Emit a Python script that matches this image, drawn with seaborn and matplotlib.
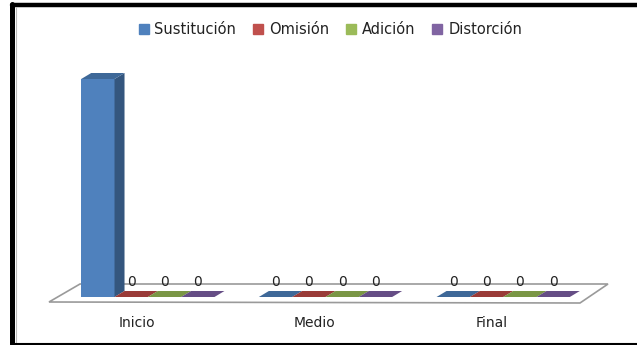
import matplotlib
matplotlib.use("Agg")
import matplotlib.pyplot as plt
import matplotlib.transforms as mtransforms
from matplotlib.patches import Polygon
from matplotlib.lines import Line2D
import pandas as pd
import seaborn as sns

# ── Datos ────────────────────────────────────────────────────────────────
ETAPAS = ["Inicio", "Medio", "Final"]
TIPOS = ["Sustitución", "Omisión", "Adición", "Distorción"]
SUSTITUCION = [10, 0, 0]
OMISION = [0, 0, 0]
ADICION = [0, 0, 0]
DISTORCION = [0, 0, 0]

# Colores: frente, tapa (más oscura), lateral
C_FRENTE = ["#4F81BD", "#C0504D", "#9BBB59", "#8064A2"]
C_TAPA = ["#3E6898", "#9A3B38", "#7A9645", "#654D85"]
C_LADO = ["#34567E", "#7F302E", "#647B37", "#523F6D"]

W, H, DPI = 637, 345, 100
DX, DY = 10, 6  # profundidad 3D en píxeles

df = pd.DataFrame({
    "etapa": ETAPAS * 4,
    "tipo": [t for t in TIPOS for _ in ETAPAS],
    "valor": SUSTITUCION + OMISION + ADICION + DISTORCION,
})

sns.set_theme(style="white")
plt.rcParams["font.family"] = ["DejaVu Sans"]

fig = plt.figure(figsize=(W / DPI, H / DPI), dpi=DPI)
fig.patch.set_facecolor("white")


def fx(px):
    return px / W


def fy(py):
    return 1 - py / H


ax = fig.add_axes([fx(59), fy(297), fx(592) - fx(59), fy(79) - fy(297)])
ax.set_facecolor("none")
ax.set_zorder(1)

# Suelo (plano 3D), detrás de las barras
suelo = Polygon([(fx(49), fy(302)), (fx(580), fy(303)), (fx(608), fy(284)), (fx(80), fy(284))],
                closed=True, transform=fig.transFigure, facecolor="white",
                edgecolor="#9A9A9A", linewidth=1.2, zorder=0.5)
fig.patches.append(suelo)

sns.barplot(data=df, x="etapa", y="valor", hue="tipo", hue_order=TIPOS,
            order=ETAPAS, palette=C_FRENTE, saturation=1, width=0.75,
            ax=ax, legend=False, linewidth=0, zorder=3)

ax.set_xlim(-0.5, 2.5)
ax.set_ylim(0, 10)
for s in ax.spines.values():
    s.set_visible(False)
ax.set_yticks([])
ax.set_xlabel("")
ax.set_ylabel("")
ax.tick_params(axis="x", length=0, pad=14, labelsize=10, labelcolor="#222222")
desplaza = mtransforms.ScaledTranslation(-11 / DPI, 0, fig.dpi_scale_trans)
for lbl in ax.get_xticklabels():
    lbl.set_transform(lbl.get_transform() + desplaza)

# Caras 3D (tapa y lateral) en coordenadas de pantalla
fig.canvas.draw()
ident = mtransforms.IdentityTransform()
for i, cont in enumerate(ax.containers):
    for bar in cont:
        x0, y0 = ax.transData.transform((bar.get_x(), 0))
        x1, y1 = ax.transData.transform((bar.get_x() + bar.get_width(), bar.get_height()))
        lado = Polygon([(x1, y0), (x1 + DX, y0 + DY), (x1 + DX, y1 + DY), (x1, y1)],
                       closed=True, transform=ident, facecolor=C_LADO[i],
                       edgecolor="none", zorder=4)
        tapa = Polygon([(x0, y1), (x0 + DX, y1 + DY), (x1 + DX, y1 + DY), (x1, y1)],
                       closed=True, transform=ident, facecolor=C_TAPA[i],
                       edgecolor="none", zorder=4)
        fig.patches.extend([lado, tapa])
    etiquetas = [f"{v:.0f}" if v == 0 else "" for v in cont.datavalues]
    ax.bar_label(cont, labels=etiquetas, padding=6, fontsize=10, color="#222222")

# Leyenda
handles = [Line2D([0], [0], marker="s", linestyle="none", markersize=7,
                  markerfacecolor=c, markeredgecolor=c) for c in C_FRENTE]
fig.legend(handles, TIPOS, loc="center", bbox_to_anchor=(fx(330), fy(30)),
           ncol=4, frameon=False, fontsize=10.5, handlelength=0.8,
           handletextpad=0.35, columnspacing=1.1, labelcolor="#222222")

# Marco (arriba e izquierda gruesos, abajo fino)
fig.add_artist(Line2D([fx(12), 1], [fy(5), fy(5)], transform=fig.transFigure,
                      color="black", linewidth=3.2))
fig.add_artist(Line2D([fx(12), fx(12)], [fy(4), fy(344)], transform=fig.transFigure,
                      color="black", linewidth=3.6))
fig.add_artist(Line2D([fx(15.5), fx(15.5)], [fy(7), fy(343)], transform=fig.transFigure,
                      color="#BBBBBB", linewidth=0.8))
fig.add_artist(Line2D([fx(12), 1], [fy(343.5), fy(343.5)], transform=fig.transFigure,
                      color="black", linewidth=1.5))

fig.savefig("out.png", dpi=DPI)
